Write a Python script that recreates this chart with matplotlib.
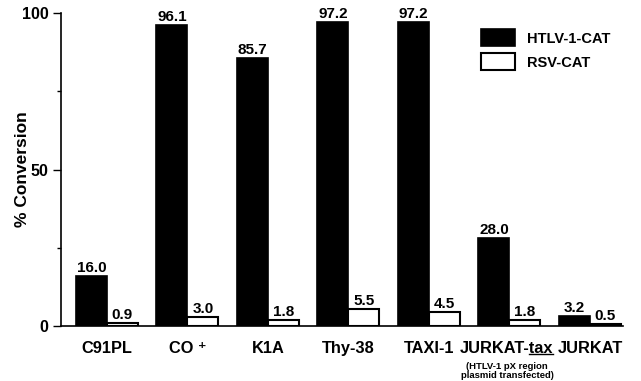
import matplotlib
matplotlib.use("Agg")
import matplotlib.pyplot as plt
from matplotlib.lines import Line2D
from matplotlib.transforms import ScaledTranslation
import numpy as np

categories = ["C91PL", "CO \u207a", "K1A", "Thy-38", "TAXI-1", "JURKAT-tax", "JURKAT"]
htlv = [16.0, 96.1, 85.7, 97.2, 97.2, 28.0, 3.2]
rsv = [0.9, 3.0, 1.8, 5.5, 4.5, 1.8, 0.5]
series_names = ["HTLV-1-CAT", "RSV-CAT"]
sublabel = "(HTLV-1 pX region\nplasmid transfected)"

plt.rcParams['font.family'] = ['Liberation Sans', 'DejaVu Sans']
plt.rcParams['font.weight'] = 'bold'

fig = plt.figure(figsize=(6.41, 3.81), dpi=100)
ax = fig.add_axes([61/641, 1-326/381, (623-61)/641, (326-13)/381])

x = np.arange(len(categories))
w = 0.385
ax.bar(x - w/2, htlv, w, color='black', edgecolor='black', linewidth=1.2, label=series_names[0])
ax.bar(x + w/2, rsv, w, color='white', edgecolor='black', linewidth=1.5, label=series_names[1])

for xi, v in zip(x - w/2, htlv):
    ax.text(xi, v + 0.3, f"{v:.1f}", ha='center', va='bottom', fontsize=11, fontweight='bold')
for xi, v in zip(x + w/2, rsv):
    ax.text(xi, v + 0.3, f"{v:.1f}", ha='center', va='bottom', fontsize=11, fontweight='bold')

ax.set_xlim(-0.57, 6.41)
ax.set_ylim(0, 100)
ax.set_xticks(x)
ax.set_xticklabels(categories, fontsize=11.8, fontweight='bold')
ax.tick_params(axis='x', length=0, pad=11)
ax.set_yticks([0, 50, 100])
ax.set_yticks([25, 75], minor=True)
ax.set_yticklabels(["0", "50", "100"], fontsize=11.5, fontweight='bold')
ax.tick_params(axis='y', which='major', length=6, width=1, direction='out', pad=3)
ax.tick_params(axis='y', which='minor', length=3, width=1, direction='out')
ax.spines['top'].set_visible(False)
ax.spines['right'].set_visible(False)
ax.spines['left'].set_linewidth(1.2)
ax.spines['bottom'].set_linewidth(1.2)
ax.set_ylabel("% Conversion", fontsize=12.5, fontweight='bold')
ax.yaxis.set_label_coords(-0.056, 0.5)

ax.text(x[5] - 0.03, -11.4, sublabel, ha='center', va='top', fontsize=6.8, fontweight='bold',
        transform=ax.transData, clip_on=False, linespacing=1.0)

leg = ax.legend(loc='upper right', bbox_to_anchor=(1.0, 0.99), frameon=False,
                fontsize=10.5, handlelength=2.3, handleheight=1.4, labelspacing=0.5)
for t in leg.get_texts():
    t.set_fontweight('bold')

# shift the JURKAT-tax label slightly left, as in the reference
lab = ax.get_xticklabels()[5]
lab.set_transform(lab.get_transform() + ScaledTranslation(-3/100, 0, fig.dpi_scale_trans))

# underline "tax"
fig.canvas.draw()
r = fig.canvas.get_renderer()
bb = lab.get_window_extent(r)
tmp = fig.text(0, 0, "tax", fontsize=11.8, fontweight='bold')
tax_w = tmp.get_window_extent(r).width
tmp.remove()
x0 = (bb.x1 - tax_w) / fig.bbox.width
x1 = bb.x1 / fig.bbox.width
yy = (bb.y0 + 2) / fig.bbox.height
fig.add_artist(Line2D([x0, x1], [yy, yy], color='black', linewidth=1.0, transform=fig.transFigure))

fig.savefig("out.png", dpi=100)
